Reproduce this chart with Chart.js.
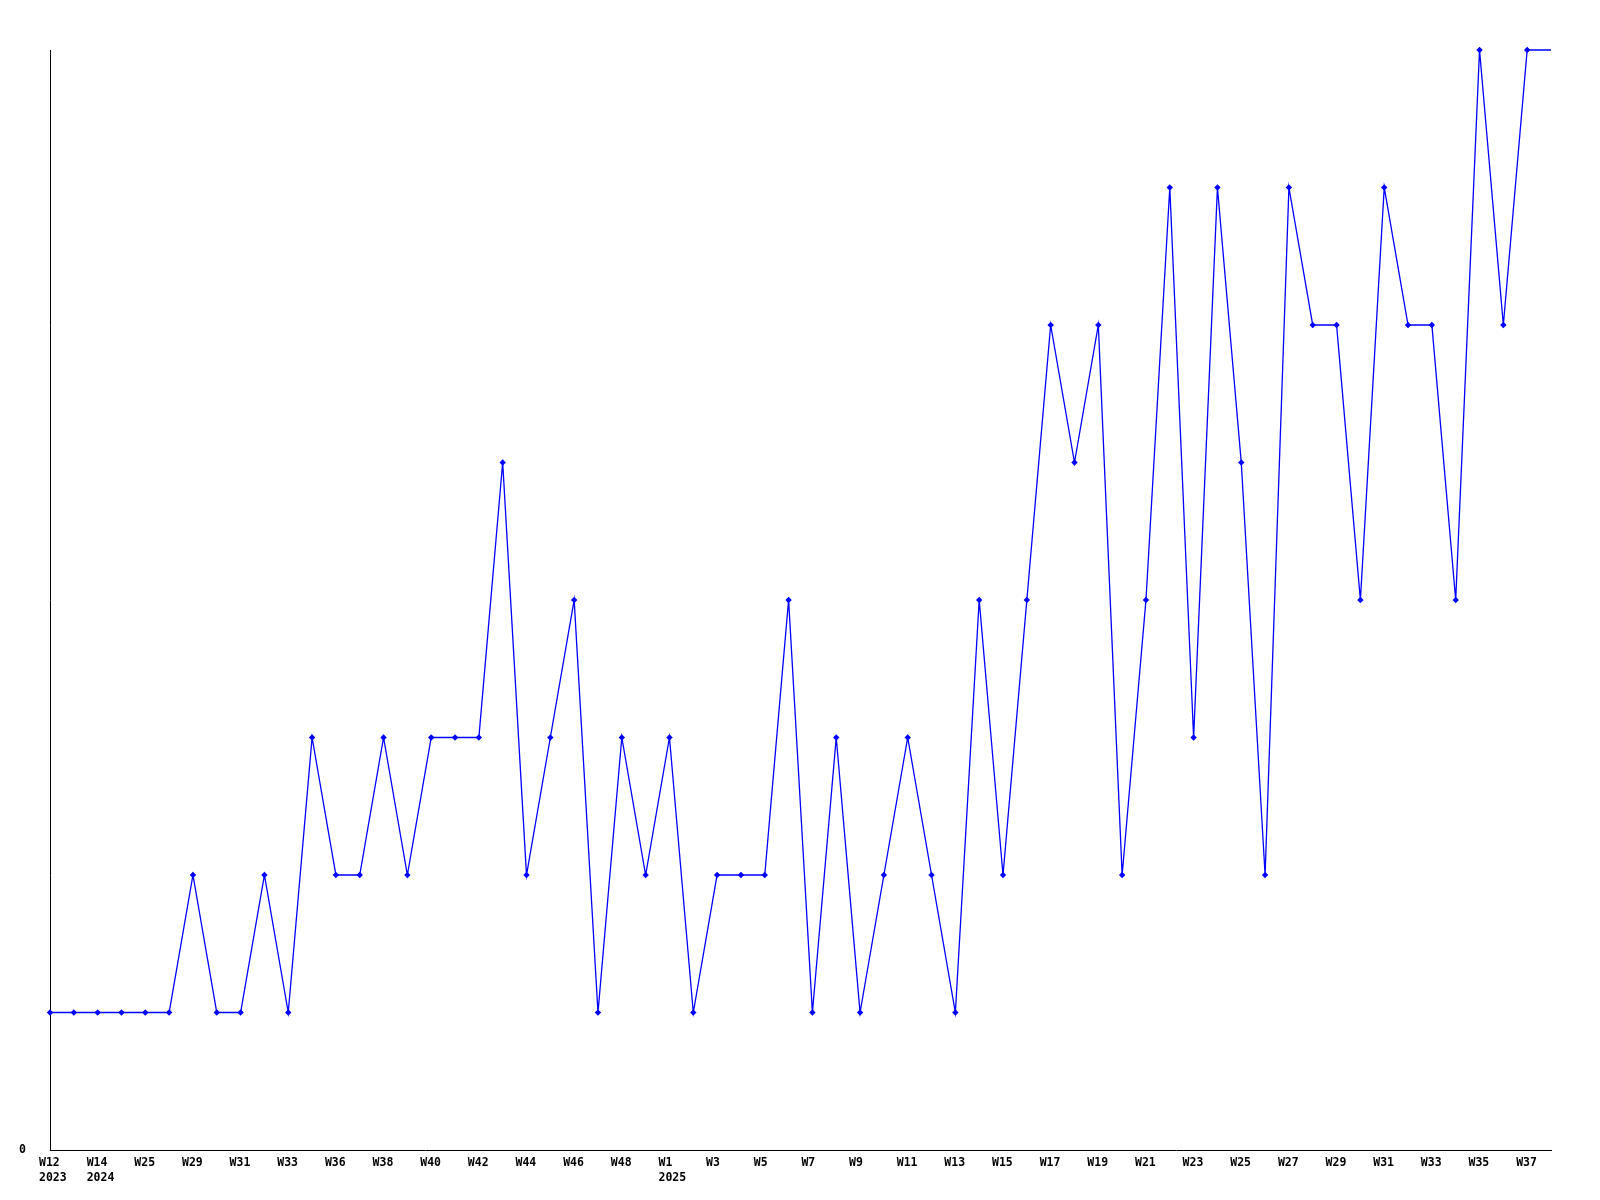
<!DOCTYPE html>
<html>
<head>
<meta charset="utf-8">
<title>Weekly chart</title>
<script src="https://cdn.jsdelivr.net/npm/chart.js@4/dist/chart.umd.min.js"></script>
<style>
  html, body { margin: 0; padding: 0; background: #fff; }
  #wrap { width: 1600px; height: 1200px; position: relative; }
</style>
</head>
<body>
<div id="wrap"><canvas id="chart" width="1600" height="1200"></canvas></div>
<script>
  // week labels shown under the axis (every second point)
  const tickLabels = [
    ["W12", "2023"], ["W14", "2024"], "W25", "W29", "W31", "W33", "W36", "W38",
    "W40", "W42", "W44", "W46", "W48", ["W1", "2025"], "W3", "W5",
    "W7", "W9", "W11", "W13", "W15", "W17", "W19", "W21",
    "W23", "W25", "W27", "W29", "W31", "W33", "W35", "W37"
  ];

  // one value per week, last entry is where the line runs on to the right edge
  const values = [
    1, 1, 1, 1, 1, 1, 2, 1, 1, 2, 1, 3, 2, 2, 3, 2,
    3, 3, 3, 5, 2, 3, 4, 1, 3, 2, 3, 1, 2, 2, 2, 4,
    1, 3, 1, 2, 3, 2, 1, 4, 2, 4, 6, 5, 6, 2, 4, 7,
    3, 7, 5, 2, 7, 6, 6, 4, 7, 6, 6, 4, 8, 6, 8,
    8
  ];

  const yTicks = [0];

  const pointCount = values.length - 1;
  const labels = values.map((v, i) => (i % 2 === 0 && i < pointCount ? tickLabels[i / 2] : ""));
  const radii = values.map((v, i) => (i < pointCount ? 3.2 : 0));

  const font = { family: "'DejaVu Sans Mono', monospace", size: 11.5, weight: "bold", lineHeight: 1.3 };

  new Chart(document.getElementById("chart").getContext("2d"), {
    type: "line",
    data: {
      labels,
      datasets: [{
        data: values,
        borderColor: "#0000ff",
        backgroundColor: "#0000ff",
        borderWidth: 1.3,
        pointStyle: "rectRot",
        pointRadius: radii,
        pointBorderWidth: 0,
        tension: 0,
        fill: false,
        clip: false,
      }],
    },
    options: {
      responsive: false,
      animation: false,
      events: [],
      layout: { padding: { top: 50, right: 49, left: 0, bottom: 0 } },
      plugins: { legend: { display: false }, tooltip: { enabled: false } },
      scales: {
        x: {
          offset: false,
          grid: { display: false, drawTicks: false },
          border: { display: true, color: "#000", width: 1 },
          afterFit: (s) => { s.height = 50; },
          ticks: {
            autoSkip: false,
            maxRotation: 0,
            minRotation: 0,
            align: "start",
            labelOffset: -11,
            padding: 6,
            color: "#000",
            font,
          },
        },
        y: {
          min: 0,
          max: 8,
          grid: { display: false, drawTicks: false },
          border: { display: true, color: "#000", width: 1 },
          afterFit: (s) => { s.width = 50; },
          afterBuildTicks: (s) => { s.ticks = yTicks.map((v) => ({ value: v })); },
          ticks: {
            padding: 24,
            color: "#000",
            font,
          },
        },
      },
    },
  });
</script>
</body>
</html>
